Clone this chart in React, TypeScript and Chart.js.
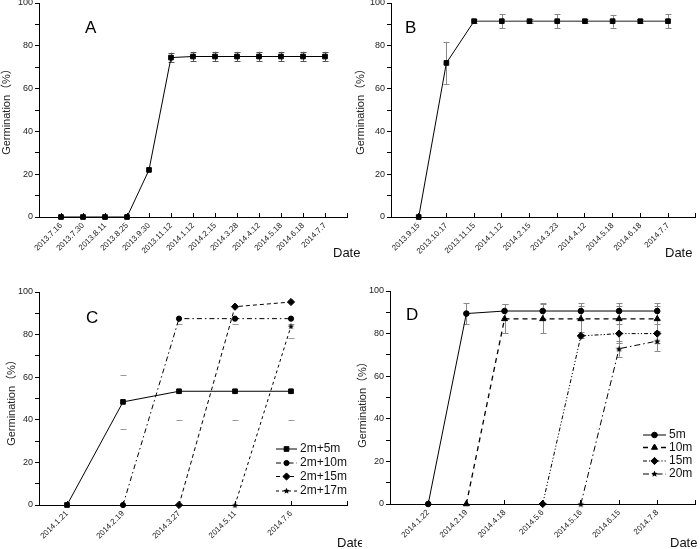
import React, { useEffect, useRef } from 'react';
import { Chart, registerables } from 'chart.js';

Chart.register(...registerables);

const FONT = "'Liberation Sans', Arial, 'Noto Sans CJK SC', sans-serif";

// ---------------- Panel A data ----------------
const A_LABELS = ['2013.7.16', '2013.7.30', '2013.8.11', '2013.8.25', '2013.9.30', '2013.11.12', '2014.1.12', '2014.2.15', '2014.3.28', '2014.4.12', '2014.5.18', '2014.6.18', '2014.7.7'];
const A_VALUES = [0, 0, 0, 0, 22, 74.5, 75, 75, 75, 75, 75, 75, 75];
const A_ERR = [0, 0, 0, 0, 0, 2.3, 2.2, 2.2, 2.2, 2.2, 2.2, 2.2, 2.2];

// ---------------- Panel B data ----------------
const B_LABELS = ['2013.9.15', '2013.10.17', '2013.11.15', '2014.1.12', '2014.2.15', '2014.3.23', '2014.4.12', '2014.5.18', '2014.6.18', '2014.7.7'];
const B_VALUES = [0, 72, 91.5, 91.5, 91.5, 91.5, 91.5, 91.5, 91.5, 91.5];
const B_ERR = [0, 9.8, 0.8, 3.3, 0.8, 3.3, 0.8, 3, 0.8, 3.3];

// ---------------- Panel C data ----------------
const C_LABELS = ['2014.1.21', '2014.2.19', '2014.3.27', '2014.5.11', '2014.7.6'];
const C_NAMES = ['2m+5m', '2m+10m', '2m+15m', '2m+17m'];
const C_5M = [0, 48.4, 53.4, 53.4, 53.4];
const C_10M = [null, 0, 87.5, 87.5, 87.5];
const C_15M = [null, null, 0, 93.1, 95.3];
const C_17M = [null, null, null, 0, 84];
const C_5M_ERR_PLUS = [0, 12.6, 0, 0, 0];
const C_5M_ERR_MINUS = [0, 12.6, 13.4, 13.4, 13.4];
const C_10M_ERR_MINUS = [0, 0, 2.5, 2.5, 2.5];
const C_17M_ERR_MINUS = [0, 0, 0, 0, 5.6];

// ---------------- Panel D data ----------------
const D_LABELS = ['2014.1.22', '2014.2.19', '2014.4.18', '2014.5.6', '2014.5.16', '2014.6.15', '2014.7.8'];
const D_NAMES = ['5m', '10m', '15m', '20m'];
const D_5M = [0, 89.4, 90.6, 90.6, 90.6, 90.6, 90.6];
const D_10M = [null, 0, 86.9, 86.9, 86.9, 86.9, 86.9];
const D_15M = [null, null, null, 0, 78.9, 80, 80];
const D_20M = [null, null, null, null, 0, 72.9, 76.5];
const D_5M_ERR = [0, 4.9, 3.3, 3.6, 3.6, 3.6, 3.6];
const D_10M_ERR = [0, 0, 6.8, 6.8, 6.1, 6.1, 6.1];
const D_15M_ERR = [0, 0, 0, 0, 1, 4.5, 4.6];
const D_20M_ERR = [0, 0, 0, 0, 0, 3.7, 4.7];

const Y_TITLE = 'Germination（%）';
const X_TITLE = 'Date';

type Marker = 'rect' | 'circle' | 'triangle' | 'rectRot' | 'star';

interface Series {
  name: string;
  values: (number | null)[];
  errPlus?: number[];
  errMinus?: number[];
  marker: Marker;
  radius: number;
  dash: number[];
  width: number;
  color: string;
  grayTail?: boolean;
}

interface Panel {
  key: string;
  left: number; top: number; w: number; h: number; // canvas, page coords
  area: { l: number; t: number; r: number; b: number }; // page coords
  labels: string[];
  xMin: number; xMax: number;
  series: Series[];
  letter: { x: number; y: number };
  date: { x: number; y: number };
  yTitle: { x: number; y: number };
  errColor: string;
  capsOnly?: boolean;
  legend?: { x0: number; x1: number; mx: number; tx: number; rows: number[]; size: number };
}

const PANELS: Panel[] = [
  {
    key: 'A', left: 0, top: -10, w: 360, h: 280,
    area: { l: 39, t: 3, r: 347, b: 217 },
    labels: A_LABELS, xMin: -1, xMax: 13,
    series: [{ name: 'A', values: A_VALUES, errPlus: A_ERR, errMinus: A_ERR, marker: 'rect', radius: 3.3, dash: [], width: 1, color: '#000' }],
    letter: { x: 85, y: 33 }, date: { x: 333, y: 257 }, yTitle: { x: 7, y: 109 },
    errColor: '#555',
  },
  {
    key: 'B', left: 350, top: -10, w: 350, h: 280,
    area: { l: 391, t: 3, r: 698, b: 217 },
    labels: B_LABELS, xMin: -1, xMax: 10,
    series: [{ name: 'B', values: B_VALUES, errPlus: B_ERR, errMinus: B_ERR, marker: 'rect', radius: 3.3, dash: [], width: 1, color: '#000', grayTail: true }],
    letter: { x: 405, y: 33 }, date: { x: 665, y: 257 }, yTitle: { x: 361, y: 109 },
    errColor: '#888',
  },
  {
    key: 'C', left: 0, top: 275, w: 362, h: 274,
    area: { l: 39, t: 292, r: 347, b: 505 },
    labels: C_LABELS, xMin: -0.5, xMax: 5,
    series: [
      { name: C_NAMES[0], values: C_5M, errPlus: C_5M_ERR_PLUS, errMinus: C_5M_ERR_MINUS, marker: 'rect', radius: 3.3, dash: [], width: 1, color: '#000' },
      { name: C_NAMES[1], values: C_10M, errMinus: C_10M_ERR_MINUS, marker: 'circle', radius: 2.6, dash: [5, 3, 1.5, 3], width: 1, color: '#000' },
      { name: C_NAMES[2], values: C_15M, marker: 'rectRot', radius: 3.6, dash: [4, 3], width: 1, color: '#000' },
      { name: C_NAMES[3], values: C_17M, errMinus: C_17M_ERR_MINUS, marker: 'star', radius: 3.3, dash: [3, 3], width: 1, color: '#000' },
    ],
    letter: { x: 86, y: 323 }, date: { x: 337, y: 547 }, yTitle: { x: 12, y: 400 },
    errColor: '#999', capsOnly: true,
    legend: { x0: 276, x1: 297, mx: 286.5, tx: 300, rows: [449, 463, 476.5, 491], size: 12 },
  },
  {
    key: 'D', left: 350, top: 275, w: 350, h: 274,
    area: { l: 390, t: 291, r: 698, b: 504 },
    labels: D_LABELS, xMin: -1, xMax: 7,
    series: [
      { name: D_NAMES[0], values: D_5M, errPlus: D_5M_ERR, errMinus: D_5M_ERR, marker: 'circle', radius: 2.8, dash: [], width: 1, color: '#000' },
      { name: D_NAMES[1], values: D_10M, errPlus: D_10M_ERR, errMinus: D_10M_ERR, marker: 'triangle', radius: 3.5, dash: [5, 4], width: 1.3, color: '#000' },
      { name: D_NAMES[2], values: D_15M, errPlus: D_15M_ERR, errMinus: D_15M_ERR, marker: 'rectRot', radius: 3.6, dash: [4, 2, 1.2, 2, 1.2, 2], width: 1, color: '#000' },
      { name: D_NAMES[3], values: D_20M, errPlus: D_20M_ERR, errMinus: D_20M_ERR, marker: 'star', radius: 3.5, dash: [6, 3, 1.5, 3], width: 1, color: '#000' },
    ],
    letter: { x: 406, y: 320 }, date: { x: 670, y: 547 }, yTitle: { x: 363, y: 402 },
    errColor: '#888',
    legend: { x0: 643, x1: 666, mx: 654.5, tx: 669, rows: [435, 447.5, 461, 474], size: 12 },
  },
];

function starPath(ctx: CanvasRenderingContext2D, x: number, y: number, r: number) {
  const inner = r * 0.45;
  ctx.beginPath();
  for (let i = 0; i < 10; i++) {
    const rr = i % 2 === 0 ? r : inner;
    const a = -Math.PI / 2 + (i * Math.PI) / 5;
    const px = x + Math.cos(a) * rr;
    const py = y + Math.sin(a) * rr;
    if (i === 0) ctx.moveTo(px, py); else ctx.lineTo(px, py);
  }
  ctx.closePath();
}

function makeStar(r: number, color: string) {
  const c = document.createElement('canvas');
  const s = Math.ceil(r * 2 + 2);
  c.width = s; c.height = s;
  const ctx = c.getContext('2d')!;
  starPath(ctx, s / 2, s / 2 + 0.4, r);
  ctx.fillStyle = color;
  ctx.fill();
  return c;
}

function drawMarker(ctx: CanvasRenderingContext2D, m: Marker, x: number, y: number, r: number) {
  if (m === 'star') { starPath(ctx, x, y, r); ctx.fill(); return; }
  ctx.beginPath();
  if (m === 'rect') {
    const s = r * Math.SQRT1_2;
    ctx.rect(x - s, y - s, 2 * s, 2 * s);
  } else if (m === 'circle') {
    ctx.arc(x, y, r, 0, Math.PI * 2);
  } else if (m === 'triangle') {
    let a = 0;
    ctx.moveTo(x + Math.sin(a) * r, y - Math.cos(a) * r);
    a += (2 * Math.PI) / 3;
    ctx.lineTo(x + Math.sin(a) * r, y - Math.cos(a) * r);
    a += (2 * Math.PI) / 3;
    ctx.lineTo(x + Math.sin(a) * r, y - Math.cos(a) * r);
    ctx.closePath();
  } else if (m === 'rectRot') {
    ctx.moveTo(x - r, y); ctx.lineTo(x, y - r); ctx.lineTo(x + r, y); ctx.lineTo(x, y + r);
    ctx.closePath();
  }
  ctx.fill();
  ctx.stroke();
}

function buildChart(canvas: HTMLCanvasElement, p: Panel) {
  const ox = p.left, oy = p.top;
  const a = { l: p.area.l - ox, t: p.area.t - oy, r: p.area.r - ox, b: p.area.b - oy };

  const datasets = p.series.map((s) => {
    const pts: { x: number; y: number }[] = [];
    s.values.forEach((v, i) => { if (v !== null) pts.push({ x: i, y: v }); });
    const ds: any = {
      label: s.name,
      data: pts,
      borderColor: s.color,
      backgroundColor: s.color,
      borderWidth: s.width,
      borderDash: s.dash,
      pointStyle: s.marker === 'star' ? makeStar(s.radius, s.color) : s.marker,
      pointRadius: s.radius,
      pointHoverRadius: s.radius,
      pointBackgroundColor: s.color,
      pointBorderColor: s.color,
      pointBorderWidth: 1,
      tension: 0,
      fill: false,
      clip: false,
    };
    if (s.grayTail) {
      ds.segment = {
        borderColor: (c: any) => (c.p0DataIndex >= 2 ? '#6a6a6a' : '#000'),
        borderWidth: (c: any) => (c.p0DataIndex >= 2 ? 1.6 : 1),
      };
    }
    return ds;
  });

  const errPlugin = {
    id: 'errbars' + p.key,
    beforeDatasetsDraw(chart: any) {
      const ctx: CanvasRenderingContext2D = chart.ctx;
      const xs = chart.scales.x, ys = chart.scales.y;
      ctx.save();
      ctx.strokeStyle = p.errColor;
      ctx.lineWidth = 1;
      p.series.forEach((s) => {
        s.values.forEach((v, i) => {
          if (v === null) return;
          const up = s.errPlus ? s.errPlus[i] : 0;
          const dn = s.errMinus ? s.errMinus[i] : 0;
          if (!up && !dn) return;
          const x = Math.round(xs.getPixelForValue(i)) + 0.5;
          const yv = ys.getPixelForValue(v);
          const yt = ys.getPixelForValue(v + (up || 0));
          const yb = ys.getPixelForValue(v - (dn || 0));
          ctx.beginPath();
          if (!p.capsOnly) { ctx.moveTo(x, yt); ctx.lineTo(x, yb); }
          if (up) { ctx.moveTo(x - 3, Math.round(yt) + 0.5); ctx.lineTo(x + 3, Math.round(yt) + 0.5); }
          if (dn) { ctx.moveTo(x - 3, Math.round(yb) + 0.5); ctx.lineTo(x + 3, Math.round(yb) + 0.5); }
          ctx.stroke();
          void yv;
        });
      });
      ctx.restore();
    },
  };

  const overlayPlugin = {
    id: 'overlay' + p.key,
    afterDraw(chart: any) {
      const ctx: CanvasRenderingContext2D = chart.ctx;
      ctx.save();
      ctx.fillStyle = '#000';
      ctx.textAlign = 'left';
      ctx.textBaseline = 'alphabetic';
      ctx.font = `17px ${FONT}`;
      ctx.fillText(p.key, p.letter.x - ox, p.letter.y - oy);
      ctx.font = `13px ${FONT}`;
      ctx.fillStyle = '#111';
      ctx.fillText(X_TITLE, p.date.x - ox, p.date.y - oy);
      ctx.save();
      ctx.translate(p.yTitle.x - ox, p.yTitle.y - oy);
      ctx.rotate(-Math.PI / 2);
      ctx.textAlign = 'center';
      ctx.textBaseline = 'middle';
      ctx.font = `11px ${FONT}`;
      ctx.fillStyle = '#222';
      ctx.fillText(Y_TITLE, 0, 0);
      ctx.restore();

      if (p.legend) {
        const L = p.legend;
        p.series.forEach((s, i) => {
          const y = L.rows[i] - oy;
          ctx.save();
          ctx.strokeStyle = s.color;
          ctx.lineWidth = s.width;
          ctx.setLineDash(s.dash);
          ctx.beginPath();
          ctx.moveTo(L.x0 - ox, y);
          ctx.lineTo(L.x1 - ox, y);
          ctx.stroke();
          ctx.setLineDash([]);
          ctx.fillStyle = s.color;
          ctx.lineWidth = 1;
          drawMarker(ctx, s.marker, L.mx - ox, y, s.radius);
          ctx.restore();
          ctx.fillStyle = '#111';
          ctx.font = `${L.size}px ${FONT}`;
          ctx.textBaseline = 'middle';
          ctx.textAlign = 'left';
          ctx.fillText(s.name, L.tx - ox, y);
        });
      }
      ctx.restore();
    },
  };

  return new Chart(canvas, {
    type: 'line',
    data: { datasets },
    options: {
      animation: false,
      responsive: false,
      maintainAspectRatio: false,
      events: [],
      layout: { padding: { left: 0, top: a.t, right: p.w - a.r, bottom: 0 } },
      plugins: { legend: { display: false }, tooltip: { enabled: false }, title: { display: false } },
      scales: {
        x: {
          type: 'linear',
          min: p.xMin,
          max: p.xMax,
          afterBuildTicks: (sc: any) => {
            const t = p.labels.map((_, i) => ({ value: i }));
            t.push({ value: p.xMax });
            sc.ticks = t;
          },
          afterFit: (sc: any) => {
            sc.height = p.h - a.b;
            sc.paddingLeft = 0;
            sc.paddingRight = 0;
          },
          ticks: {
            autoSkip: false,
            minRotation: 45,
            maxRotation: 45,
            padding: 8,
            color: '#222',
            font: { family: FONT, size: 8 },
            callback: (v: any) => (p.labels[v as number] ?? ''),
          },
          grid: { display: true, drawOnChartArea: false, drawTicks: true, tickLength: -4, color: '#000', lineWidth: 1 },
          border: { display: true, color: '#000', width: 1 },
        },
        y: {
          type: 'linear',
          min: 0,
          max: 100,
          afterFit: (sc: any) => {
            sc.width = a.l;
            sc.paddingTop = 0;
            sc.paddingBottom = 0;
          },
          ticks: {
            stepSize: 10,
            autoSkip: false,
            padding: 2,
            color: '#222',
            font: { family: FONT, size: 9 },
            callback: (v: any) => ((v as number) % 20 === 0 ? String(v) : ''),
          },
          grid: { display: true, drawOnChartArea: false, drawTicks: true, tickLength: 4, color: '#000', lineWidth: 1 },
          border: { display: true, color: '#000', width: 1 },
        },
      },
    } as any,
    plugins: [errPlugin, overlayPlugin],
  });
}

function PanelChart({ p }: { p: Panel }) {
  const ref = useRef<HTMLCanvasElement>(null);
  useEffect(() => {
    const chart = buildChart(ref.current!, p);
    return () => chart.destroy();
  }, [p]);
  return (
    <canvas
      ref={ref}
      width={p.w}
      height={p.h}
      style={{ position: 'absolute', left: p.left, top: p.top, width: p.w, height: p.h }}
    />
  );
}

export default function App() {
  return (
    <div style={{ position: 'absolute', left: 0, top: 0, width: 700, height: 549, overflow: 'hidden', background: '#fff' }}>
      {PANELS.map((p) => (
        <PanelChart key={p.key} p={p} />
      ))}
    </div>
  );
}
